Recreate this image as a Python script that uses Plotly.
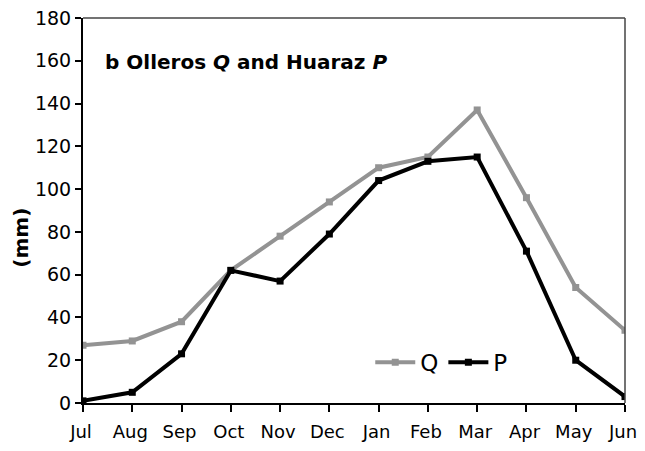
import plotly.graph_objects as go

months = ["Jul", "Aug", "Sep", "Oct", "Nov", "Dec", "Jan", "Feb", "Mar", "Apr", "May", "Jun"]
q_values = [27, 29, 38, 62, 78, 94, 110, 115, 137, 96, 54, 34]
p_values = [1, 5, 23, 62, 57, 79, 104, 113, 115, 71, 20, 3]

fig = go.Figure()

fig.add_trace(go.Scatter(
    x=months, y=q_values, name="Q", mode="lines+markers",
    line=dict(color="#939393", width=4),
    marker=dict(symbol="square", size=7, color="#939393"),
))
fig.add_trace(go.Scatter(
    x=months, y=p_values, name="P", mode="lines+markers",
    line=dict(color="#000000", width=4),
    marker=dict(symbol="square", size=7, color="#000000"),
))

# thin grey top / right frame
fig.add_shape(type="line", xref="paper", yref="paper", x0=0, x1=1, y0=1, y1=1,
              line=dict(color="#444444", width=1.5))
fig.add_shape(type="line", xref="paper", yref="paper", x0=1, x1=1, y0=0, y1=1,
              line=dict(color="#444444", width=1.5))

fig.add_annotation(
    text="<b>b Olleros <i>Q</i> and Huaraz <i>P</i></b>",
    xref="paper", yref="paper", x=0.037, y=0.886, xanchor="left", yanchor="middle",
    showarrow=False, font=dict(size=20, color="#000000"),
)
# y label sits a bit below the axis middle in the original
fig.add_annotation(
    text="<b>(mm)</b>", textangle=-90,
    xref="paper", yref="paper", x=-0.114, y=0.43, xanchor="center", yanchor="middle",
    showarrow=False, font=dict(size=20, color="#000000"),
)

# the page has an 8px body margin, so the figure is sized to fit inside it
fig.update_layout(
    width=637, height=435,
    margin=dict(l=75, r=20, t=10, b=40),
    paper_bgcolor="white", plot_bgcolor="white",
    font=dict(family="DejaVu Sans, Arial, sans-serif", size=19, color="#000000"),
    showlegend=True,
    legend=dict(orientation="h", x=0.53, y=0.106, xanchor="left", yanchor="middle",
                font=dict(size=23), bgcolor="rgba(0,0,0,0)", itemwidth=40,
                tracegroupgap=0),
)
fig.update_xaxes(
    type="category", range=[0, 11], showgrid=False, zeroline=False, automargin=False,
    showline=True, linecolor="#000000", linewidth=2,
    ticks="outside", ticklen=7, tickwidth=2, tickcolor="#000000",
    tickfont=dict(size=18), ticklabeloverflow="allow", ticklabelshift=-2,
    ticklabelstandoff=4,
)
fig.update_yaxes(
    range=[0, 180], dtick=20, showgrid=False, zeroline=False, automargin=False,
    showline=True, linecolor="#000000", linewidth=2,
    ticks="outside", ticklen=6, tickwidth=1.5, tickcolor="#000000",
    tickfont=dict(size=19), ticklabeloverflow="allow",
)

fig.write_html("out.html")
